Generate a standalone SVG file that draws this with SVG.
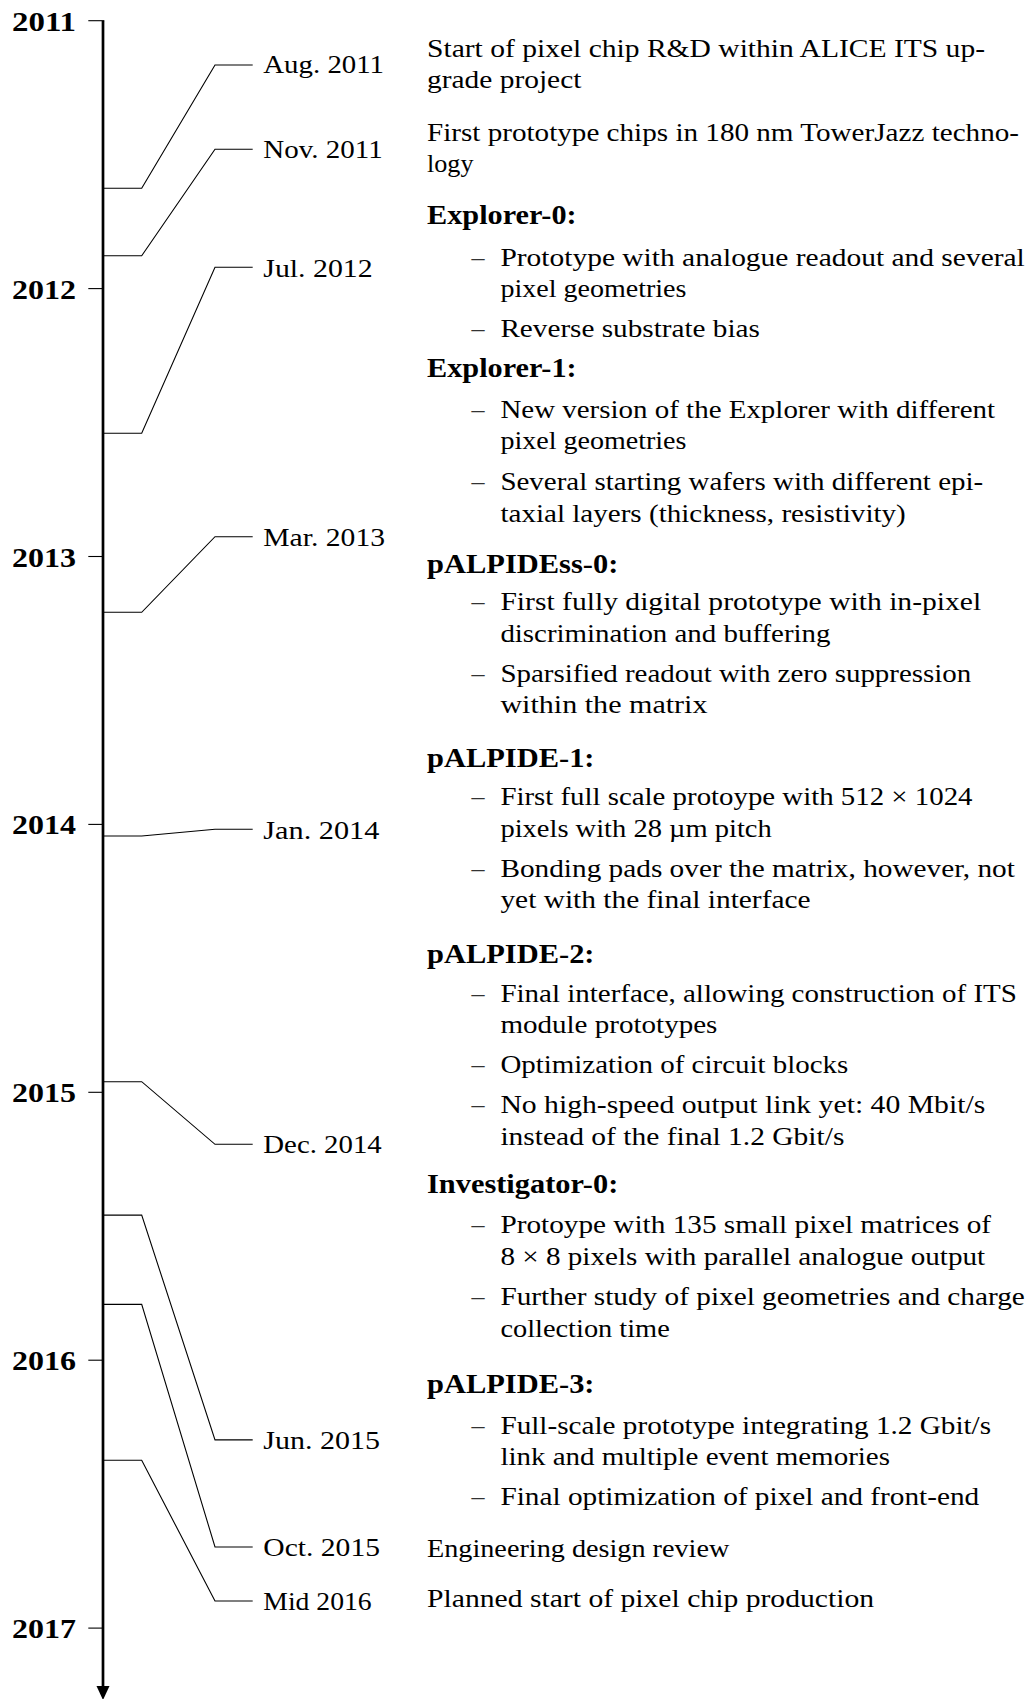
<svg xmlns="http://www.w3.org/2000/svg" width="1032" height="1699" viewBox="0 0 1032 1699" font-family="Liberation Serif, serif">
  <style>
    text { fill: #000; }
    .t { font-size: 26px; }
    .h { font-size: 26.5px; font-weight: bold; }
    .yr { font-size: 28px; font-weight: bold; }
    .dash { font-size: 26px; fill: #333; }
    .axis { stroke: #000; stroke-width: 2.7; fill: none; }
    .tick { stroke: #000; stroke-width: 1.1; fill: none; }
    .conn { stroke: #000; stroke-width: 1.1; fill: none; stroke-linejoin: miter; }
  </style>

  <!-- time axis with year ticks -->
  <g id="axis">
    <line class="axis" x1="103" y1="20.7" x2="103" y2="1688"/>
    <polygon points="96.5,1686 109.5,1686 103,1700" fill="#000"/>
    <path class="tick" d="M88.3,20.7 H104.3"/>
    <path class="tick" d="M88.3,288.6 H103"/>
    <path class="tick" d="M88.3,556.5 H103"/>
    <path class="tick" d="M88.3,824.4 H103"/>
    <path class="tick" d="M88.3,1092.3 H103"/>
    <path class="tick" d="M88.3,1360.2 H103"/>
    <path class="tick" d="M88.3,1628.1 H103"/>
    <text class="yr" x="12" y="31" textLength="64" lengthAdjust="spacingAndGlyphs">2011</text>
    <text class="yr" x="12" y="299" textLength="64" lengthAdjust="spacingAndGlyphs">2012</text>
    <text class="yr" x="12" y="566.5" textLength="64" lengthAdjust="spacingAndGlyphs">2013</text>
    <text class="yr" x="12" y="834.4" textLength="64" lengthAdjust="spacingAndGlyphs">2014</text>
    <text class="yr" x="12" y="1102.3" textLength="64" lengthAdjust="spacingAndGlyphs">2015</text>
    <text class="yr" x="12" y="1370.2" textLength="64" lengthAdjust="spacingAndGlyphs">2016</text>
    <text class="yr" x="12" y="1638.1" textLength="64" lengthAdjust="spacingAndGlyphs">2017</text>
  </g>

  <!-- leader lines from the axis to the date labels -->
  <g id="connectors">
    <polyline class="conn" points="104,188.3 141.7,188.3 215,65 252.7,65"/>
    <polyline class="conn" points="104,255.7 141.7,255.7 215,149.3 252.7,149.3"/>
    <polyline class="conn" points="104,433.3 141.7,433.3 215,267.3 252.7,267.3"/>
    <polyline class="conn" points="104,612.3 141.7,612.3 215,536.7 252.7,536.7"/>
    <polyline class="conn" points="104,836 141.7,836 215,829.3 252.7,829.3"/>
    <polyline class="conn" points="104,1081.7 141.7,1081.7 215,1144.3 252.7,1144.3"/>
    <polyline class="conn" points="104,1215.1 141.7,1215.1 215,1439.9 252.7,1439.9"/>
    <polyline class="conn" points="104,1304.4 141.7,1304.4 215,1547 252.7,1547"/>
    <polyline class="conn" points="104,1460.2 141.7,1460.2 215,1601 252.7,1601"/>
  </g>

  <!-- date labels -->
  <g id="date-aug-2011"><text class="t" x="263.3" y="72.7" textLength="120.7" lengthAdjust="spacingAndGlyphs">Aug.  2011</text></g>
  <g id="date-nov-2011"><text class="t" x="263.3" y="158.3" textLength="119.4" lengthAdjust="spacingAndGlyphs">Nov.  2011</text></g>
  <g id="date-jul-2012"><text class="t" x="263.3" y="276.7" textLength="109.4" lengthAdjust="spacingAndGlyphs">Jul.  2012</text></g>
  <g id="date-mar-2013"><text class="t" x="263.3" y="546" textLength="121.7" lengthAdjust="spacingAndGlyphs">Mar.  2013</text></g>
  <g id="date-jan-2014"><text class="t" x="263.3" y="839.3" textLength="116" lengthAdjust="spacingAndGlyphs">Jan.  2014</text></g>
  <g id="date-dec-2014"><text class="t" x="263.3" y="1153.3" textLength="118.4" lengthAdjust="spacingAndGlyphs">Dec.  2014</text></g>
  <g id="date-jun-2015"><text class="t" x="263.3" y="1449.4" textLength="116.7" lengthAdjust="spacingAndGlyphs">Jun.  2015</text></g>
  <g id="date-oct-2015"><text class="t" x="263.3" y="1556.2" textLength="116.7" lengthAdjust="spacingAndGlyphs">Oct.  2015</text></g>
  <g id="date-mid-2016"><text class="t" x="263.3" y="1610.4" textLength="108.4" lengthAdjust="spacingAndGlyphs">Mid 2016</text></g>

  <!-- milestone descriptions -->
  <g id="desc-start">
    <text class="t" x="427" y="57" textLength="558" lengthAdjust="spacingAndGlyphs">Start of pixel chip R&amp;D within ALICE ITS up-</text>
    <text class="t" x="427" y="88.3" textLength="154.4" lengthAdjust="spacingAndGlyphs">grade project</text>
  </g>

  <g id="desc-first-prototypes">
    <text class="t" x="427" y="140.7" textLength="592" lengthAdjust="spacingAndGlyphs">First prototype chips in 180 nm TowerJazz techno-</text>
    <text class="t" x="427" y="171.7" textLength="46.5" lengthAdjust="spacingAndGlyphs">logy</text>
  </g>

  <g id="desc-explorer-0">
    <text class="h" x="427" y="224" textLength="149.6" lengthAdjust="spacingAndGlyphs">Explorer-0:</text>
    <text class="dash" x="471.5" y="265.7">–</text>
    <text class="t" x="500.4" y="265.7" textLength="524.4" lengthAdjust="spacingAndGlyphs">Prototype with analogue readout and several</text>
    <text class="t" x="500.4" y="296.7" textLength="186.1" lengthAdjust="spacingAndGlyphs">pixel geometries</text>
    <text class="dash" x="471.5" y="336.7">–</text>
    <text class="t" x="500.4" y="336.7" textLength="259.5" lengthAdjust="spacingAndGlyphs">Reverse substrate bias</text>
  </g>

  <g id="desc-explorer-1">
    <text class="h" x="427" y="377.3" textLength="149.6" lengthAdjust="spacingAndGlyphs">Explorer-1:</text>
    <text class="dash" x="471.5" y="418.3">–</text>
    <text class="t" x="500.4" y="418.3" textLength="494.7" lengthAdjust="spacingAndGlyphs">New version of the Explorer with different</text>
    <text class="t" x="500.4" y="449.3" textLength="186.1" lengthAdjust="spacingAndGlyphs">pixel geometries</text>
    <text class="dash" x="471.5" y="490">–</text>
    <text class="t" x="500.4" y="490" textLength="482.8" lengthAdjust="spacingAndGlyphs">Several starting wafers with different epi-</text>
    <text class="t" x="500.4" y="521.7" textLength="405.4" lengthAdjust="spacingAndGlyphs">taxial layers (thickness, resistivity)</text>
  </g>

  <g id="desc-palpidess-0">
    <text class="h" x="427" y="573.3" textLength="191.3" lengthAdjust="spacingAndGlyphs">pALPIDEss-0:</text>
    <text class="dash" x="471.5" y="610">–</text>
    <text class="t" x="500.4" y="610" textLength="480.8" lengthAdjust="spacingAndGlyphs">First fully digital prototype with in-pixel</text>
    <text class="t" x="500.4" y="641.7" textLength="330.1" lengthAdjust="spacingAndGlyphs">discrimination and buffering</text>
    <text class="dash" x="471.5" y="681.7">–</text>
    <text class="t" x="500.4" y="681.7" textLength="470.9" lengthAdjust="spacingAndGlyphs">Sparsified readout with zero suppression</text>
    <text class="t" x="500.4" y="712.7" textLength="207.1" lengthAdjust="spacingAndGlyphs">within the matrix</text>
  </g>

  <g id="desc-palpide-1">
    <text class="h" x="427" y="766.7" textLength="167.5" lengthAdjust="spacingAndGlyphs">pALPIDE-1:</text>
    <text class="dash" x="471.5" y="805">–</text>
    <text class="t" x="500.4" y="805" textLength="472.1" lengthAdjust="spacingAndGlyphs">First full scale protoype with 512 × 1024</text>
    <text class="t" x="500.4" y="836.7" textLength="271.4" lengthAdjust="spacingAndGlyphs">pixels with 28 µm pitch</text>
    <text class="dash" x="471.5" y="876.7">–</text>
    <text class="t" x="500.4" y="876.7" textLength="514.5" lengthAdjust="spacingAndGlyphs">Bonding pads over the matrix, however, not</text>
    <text class="t" x="500.4" y="908.3" textLength="310.2" lengthAdjust="spacingAndGlyphs">yet with the final interface</text>
  </g>

  <g id="desc-palpide-2">
    <text class="h" x="427" y="963.3" textLength="167.5" lengthAdjust="spacingAndGlyphs">pALPIDE-2:</text>
    <text class="dash" x="471.5" y="1001.7">–</text>
    <text class="t" x="500.4" y="1001.7" textLength="516.5" lengthAdjust="spacingAndGlyphs">Final interface, allowing construction of ITS</text>
    <text class="t" x="500.4" y="1033.3" textLength="217" lengthAdjust="spacingAndGlyphs">module prototypes</text>
    <text class="dash" x="471.5" y="1073.3">–</text>
    <text class="t" x="500.4" y="1073.3" textLength="347.9" lengthAdjust="spacingAndGlyphs">Optimization of circuit blocks</text>
    <text class="dash" x="471.5" y="1113.3">–</text>
    <text class="t" x="500.4" y="1113.3" textLength="484.8" lengthAdjust="spacingAndGlyphs">No high-speed output link yet:  40 Mbit/s</text>
    <text class="t" x="500.4" y="1145" textLength="344" lengthAdjust="spacingAndGlyphs">instead of the final 1.2 Gbit/s</text>
  </g>

  <g id="desc-investigator-0">
    <text class="h" x="427" y="1193.3" textLength="191.3" lengthAdjust="spacingAndGlyphs">Investigator-0:</text>
    <text class="dash" x="471.5" y="1233.3">–</text>
    <text class="t" x="500.4" y="1233.3" textLength="490.7" lengthAdjust="spacingAndGlyphs">Protoype with 135 small pixel matrices of</text>
    <text class="t" x="500.4" y="1265" textLength="484.8" lengthAdjust="spacingAndGlyphs">8 × 8 pixels with parallel analogue output</text>
    <text class="dash" x="471.5" y="1305">–</text>
    <text class="t" x="500.4" y="1305" textLength="524.4" lengthAdjust="spacingAndGlyphs">Further study of pixel geometries and charge</text>
    <text class="t" x="500.4" y="1336.7" textLength="169.4" lengthAdjust="spacingAndGlyphs">collection time</text>
  </g>

  <g id="desc-palpide-3">
    <text class="h" x="427" y="1393.3" textLength="167.5" lengthAdjust="spacingAndGlyphs">pALPIDE-3:</text>
    <text class="dash" x="471.5" y="1434">–</text>
    <text class="t" x="500.4" y="1434" textLength="490.7" lengthAdjust="spacingAndGlyphs">Full-scale prototype integrating 1.2 Gbit/s</text>
    <text class="t" x="500.4" y="1465" textLength="389.6" lengthAdjust="spacingAndGlyphs">link and multiple event memories</text>
    <text class="dash" x="471.5" y="1505">–</text>
    <text class="t" x="500.4" y="1505" textLength="478.8" lengthAdjust="spacingAndGlyphs">Final optimization of pixel and front-end</text>
  </g>

  <g id="desc-design-review">
    <text class="t" x="427" y="1556.7" textLength="302.3" lengthAdjust="spacingAndGlyphs">Engineering design review</text>
  </g>

  <g id="desc-production">
    <text class="t" x="427" y="1606.7" textLength="447.1" lengthAdjust="spacingAndGlyphs">Planned start of pixel chip production</text>
  </g>
</svg>
